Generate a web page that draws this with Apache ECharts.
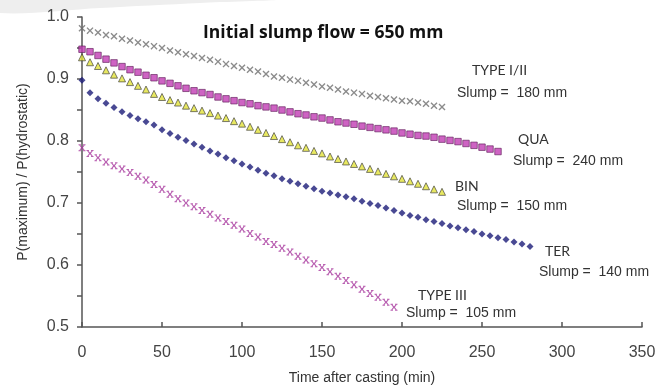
<!DOCTYPE html>
<html style="height: 100%">
<head>
  <meta charset="utf-8">
</head>
<body style="height: 100%; margin: 0; background: #fff">
  <div id="container" style="width: 669px; height: 387px"></div>
  <script type="text/javascript" src="https://cdn.jsdelivr.net/npm/echarts@6/dist/echarts.min.js"></script>
  <script type="text/javascript">
    // time after casting (min), one reading every 5 min
    var times = [0, 5, 10, 15, 20, 25, 30, 35, 40, 45, 50, 55, 60, 65, 70, 75, 80, 85, 90, 95,
      100, 105, 110, 115, 120, 125, 130, 135, 140, 145, 150, 155, 160, 165, 170, 175, 180, 185, 190, 195,
      200, 205, 210, 215, 220, 225, 230, 235, 240, 245, 250, 255, 260, 265, 270, 275, 280];

    var typeI_II = [0.982, 0.978, 0.975, 0.971, 0.969, 0.965, 0.962, 0.959, 0.956, 0.953,
      0.950, 0.946, 0.943, 0.940, 0.937, 0.934, 0.931, 0.928, 0.924, 0.921,
      0.918, 0.915, 0.912, 0.908, 0.904, 0.902, 0.899, 0.897, 0.894, 0.891,
      0.888, 0.886, 0.883, 0.880, 0.878, 0.876, 0.873, 0.871, 0.869, 0.867,
      0.865, 0.864, 0.862, 0.860, 0.857, 0.855];

    var qua = [0.948, 0.944, 0.938, 0.932, 0.926, 0.920, 0.915, 0.911, 0.906, 0.902,
      0.897, 0.893, 0.889, 0.885, 0.881, 0.878, 0.875, 0.871, 0.868, 0.865,
      0.862, 0.860, 0.857, 0.855, 0.853, 0.850, 0.847, 0.844, 0.842, 0.839,
      0.837, 0.834, 0.831, 0.829, 0.827, 0.824, 0.822, 0.820, 0.818, 0.816,
      0.813, 0.811, 0.809, 0.808, 0.806, 0.803, 0.801, 0.799, 0.796, 0.793,
      0.790, 0.787, 0.783];

    var bin = [0.935, 0.927, 0.921, 0.914, 0.907, 0.901, 0.895, 0.889, 0.883, 0.876,
      0.871, 0.866, 0.862, 0.857, 0.853, 0.849, 0.845, 0.841, 0.837, 0.832,
      0.828, 0.823, 0.818, 0.813, 0.808, 0.803, 0.798, 0.793, 0.789, 0.784,
      0.780, 0.775, 0.771, 0.767, 0.763, 0.759, 0.755, 0.751, 0.747, 0.743,
      0.739, 0.735, 0.731, 0.727, 0.722, 0.718];

    var ter = [0.898, 0.878, 0.868, 0.861, 0.854, 0.847, 0.841, 0.836, 0.831, 0.826,
      0.818, 0.812, 0.806, 0.801, 0.795, 0.790, 0.784, 0.779, 0.773, 0.768,
      0.763, 0.758, 0.753, 0.748, 0.744, 0.739, 0.735, 0.731, 0.727, 0.723,
      0.719, 0.716, 0.713, 0.710, 0.707, 0.703, 0.699, 0.696, 0.692, 0.688,
      0.684, 0.680, 0.677, 0.673, 0.670, 0.667, 0.663, 0.660, 0.657, 0.654,
      0.650, 0.647, 0.644, 0.641, 0.637, 0.634, 0.630];

    var typeIII = [0.789, 0.780, 0.773, 0.766, 0.760, 0.755, 0.749, 0.743, 0.737, 0.730,
      0.722, 0.714, 0.707, 0.700, 0.694, 0.688, 0.682, 0.676, 0.670, 0.664,
      0.658, 0.651, 0.645, 0.638, 0.633, 0.627, 0.621, 0.614, 0.608, 0.602,
      0.596, 0.589, 0.582, 0.575, 0.568, 0.561, 0.554, 0.548, 0.540, 0.532];

    var xTicks = [0, 50, 100, 150, 200, 250, 300, 350];
    var yTicks = [0.5, 0.6, 0.7, 0.8, 0.9, 1.0];

    var crossPath = 'path://M0,1.4L1.4,0L5,3.6L8.6,0L10,1.4L6.4,5L10,8.6L8.6,10L5,6.4L1.4,10L0,8.6L3.6,5Z';
    var bowPath = 'path://M0,0H3.5V1.4H2.8L5,3.8L7.2,1.4H6.5V0H10V1.4H9L6.3,5L9,8.6H10V10H6.5V8.6H7.2L5,6.2L2.8,8.6H3.5V10H0V8.6H1L3.7,5L1,1.4H0Z';

    function pairs(vals) {
      return vals.map(function (v, i) { return [times[i], v]; });
    }

    var dom = document.getElementById('container');
    var myChart = echarts.init(dom, null, { renderer: 'canvas' });

    var labelFont = 'Lato, "Open Sans", sans-serif';
    var arialFont = '"Liberation Sans", Arial, sans-serif';

    function note(x, y, text, font, size) {
      return {
        type: 'text', left: x, top: y,
        style: { text: text, fill: '#333', font: size + 'px ' + font }
      };
    }

    var option = {
      backgroundColor: '#fff',
      animation: false,
      title: {
        text: 'Initial slump flow = 650 mm',
        left: 203, top: 24, padding: 0,
        textStyle: { fontFamily: '"Open Sans", sans-serif', fontWeight: 'bold', fontSize: 17.5, color: '#111' }
      },
      grid: { left: 82, right: 27, top: 17, bottom: 60, outerBoundsMode: 'none', containLabel: false },
      xAxis: {
        type: 'value', min: 0, max: 350, interval: 50,
        name: 'Time after casting (min)', nameLocation: 'middle', nameGap: 44,
        nameTextStyle: { fontFamily: arialFont, fontSize: 14, color: '#333' },
        axisLine: { lineStyle: { color: '#555', width: 1.5 } },
        axisTick: { inside: true, length: 5, lineStyle: { color: '#555', width: 1.5 } },
        axisLabel: {
          margin: 18, fontFamily: arialFont, fontSize: 16, color: '#444',
          formatter: function (v) { return xTicks.indexOf(v) >= 0 ? String(v) : ''; }
        },
        splitLine: { show: false }
      },
      yAxis: {
        type: 'value', min: 0.5, max: 1.0, interval: 0.05,
        name: 'P(maximum) / P(hydrostatic)', nameLocation: 'middle', nameGap: 52,
        nameTextStyle: { fontFamily: arialFont, fontSize: 14, color: '#333' },
        axisLine: { show: true, lineStyle: { color: '#555', width: 1.5 } },
        axisTick: { show: true, length: 5, lineStyle: { color: '#555', width: 1.5 } },
        axisLabel: {
          margin: 13, fontFamily: arialFont, fontSize: 16, color: '#444',
          formatter: function (v) {
            var r = Math.round(v * 10) / 10;
            return (Math.abs(r - v) < 1e-6 && yTicks.indexOf(r) >= 0) ? r.toFixed(1) : '';
          }
        },
        splitLine: { show: false }
      },
      graphic: [
        {
          type: 'polygon', z: -10,
          shape: { points: [[0, 0], [0, 13], [100, 8], [200, 3], [275, 0]], smooth: 0.3 },
          style: { fill: '#eeeeee' }
        },
        note(472, 63, 'TYPE I/II', labelFont, 14),
        note(457, 86, 'Slump =  180 mm', arialFont, 14),
        note(518, 132, 'QUA', labelFont, 14),
        note(513, 154, 'Slump =  240 mm', arialFont, 14),
        note(455, 179, 'BIN', labelFont, 14),
        note(457, 199, 'Slump =  150 mm', arialFont, 14),
        note(545, 244, 'TER', labelFont, 14),
        note(539, 265, 'Slump =  140 mm', arialFont, 14),
        note(418, 288, 'TYPE III', labelFont, 14),
        note(406, 306, 'Slump =  105 mm', arialFont, 14)
      ],
      series: [
        {
          name: 'TYPE I/II', type: 'scatter', data: pairs(typeI_II),
          symbol: crossPath, symbolSize: 7,
          itemStyle: { color: '#6e6e6e' }
        },
        {
          name: 'QUA', type: 'scatter', data: pairs(qua),
          symbol: 'rect', symbolSize: 6.5,
          itemStyle: { color: '#c23cb4', borderColor: '#5e1a58', borderWidth: 0.8 }
        },
        {
          name: 'BIN', type: 'scatter', data: pairs(bin),
          symbol: 'triangle', symbolSize: 7,
          itemStyle: { color: '#e2e23a', borderColor: '#333', borderWidth: 0.8 }
        },
        {
          name: 'TER', type: 'scatter', data: pairs(ter),
          symbol: 'diamond', symbolSize: 7,
          itemStyle: { color: '#1b1b78' }
        },
        {
          name: 'TYPE III', type: 'scatter', data: pairs(typeIII),
          symbol: bowPath, symbolSize: 7,
          itemStyle: { color: '#a8389e' }
        }
      ]
    };

    myChart.setOption(option);
    window.addEventListener('resize', myChart.resize);
  </script>
</body>
</html>
